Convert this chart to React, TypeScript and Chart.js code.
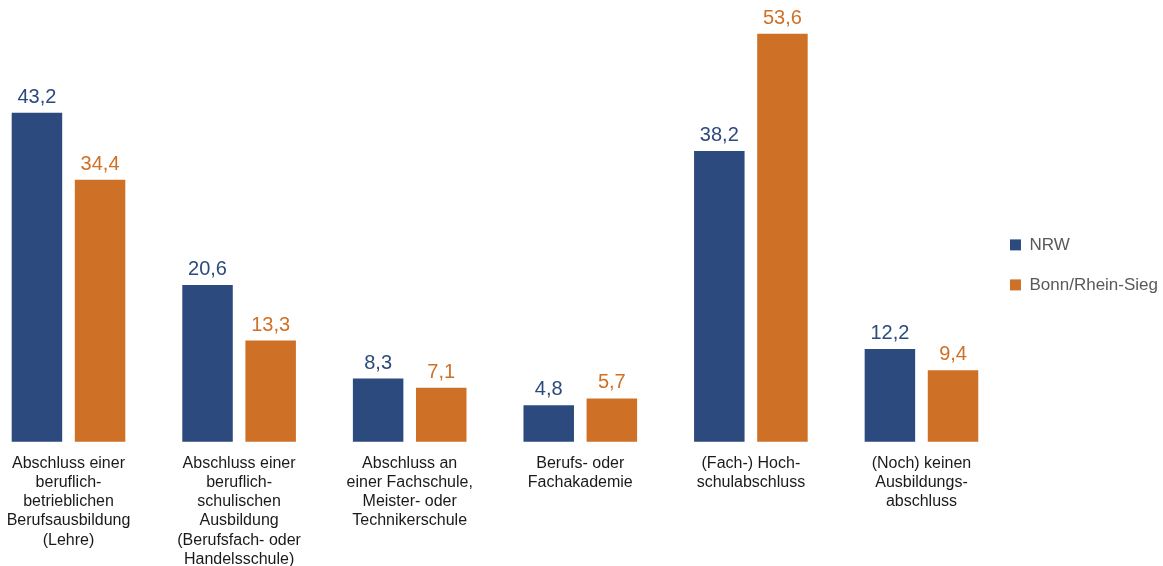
import React, { useEffect, useRef } from "react";
import { Chart, registerables } from "chart.js";

Chart.register(...registerables);

const categories: string[][] = [
  ["Abschluss einer", "beruflich-", "betrieblichen", "Berufsausbildung", "(Lehre)"],
  ["Abschluss einer", "beruflich-", "schulischen", "Ausbildung", "(Berufsfach- oder", "Handelsschule)"],
  ["Abschluss an", "einer Fachschule,", "Meister- oder", "Technikerschule"],
  ["Berufs- oder", "Fachakademie"],
  ["(Fach-) Hoch-", "schulabschluss"],
  ["(Noch) keinen", "Ausbildungs-", "abschluss"],
];
const seriesNames = ["NRW", "Bonn/Rhein-Sieg"];
const nrwValues = [43.2, 20.6, 8.3, 4.8, 38.2, 12.2];
const bonnValues = [34.4, 13.3, 7.1, 5.7, 53.6, 9.4];

const BLUE = "#2C4A7E";
const ORANGE = "#CF7027";
const FONT = "'Liberation Sans', Arial, Helvetica, sans-serif";

const valueLabels = {
  id: "valueLabels",
  afterDatasetsDraw(chart: any) {
    const ctx = chart.ctx;
    ctx.save();
    ctx.font = `20px ${FONT}`;
    ctx.textAlign = "center";
    ctx.textBaseline = "alphabetic";
    chart.data.datasets.forEach((ds: any, di: number) => {
      const meta = chart.getDatasetMeta(di);
      ctx.fillStyle = ds.backgroundColor;
      meta.data.forEach((el: any, i: number) => {
        const v = ds.data[i] as number;
        ctx.fillText(v.toFixed(1).replace(".", ","), el.x, el.y - 10);
      });
    });
    ctx.restore();
  },
};

export default function App() {
  const ref = useRef<HTMLCanvasElement | null>(null);
  useEffect(() => {
    if (!ref.current) return;
    const chart = new Chart(ref.current, {
      type: "bar",
      data: {
        labels: categories,
        datasets: [
          {
            label: seriesNames[0],
            data: nrwValues,
            backgroundColor: BLUE,
            categoryPercentage: 0.74,
            barPercentage: 0.8,
            clip: false as any,
          },
          {
            label: seriesNames[1],
            data: bonnValues,
            backgroundColor: ORANGE,
            categoryPercentage: 0.74,
            barPercentage: 0.8,
            clip: false as any,
          },
        ],
      },
      options: {
        animation: false,
        responsive: true,
        maintainAspectRatio: false,
        layout: { padding: { left: 68.5, right: -5, top: 23, bottom: -5 } },
        plugins: {
          tooltip: { enabled: false },
          legend: {
            position: "right",
            align: "start",
            title: {
              display: true,
              text: "",
              padding: { top: 176, bottom: 0 },
              font: { size: 12, lineHeight: 1.2 },
            },
            labels: {
              boxWidth: 11,
              boxHeight: 11,
              padding: 23,
              color: "#595959",
              font: { family: FONT, size: 17 },
            },
          },
        },
        scales: {
          x: {
            offset: false,
            grid: { display: false, drawTicks: true, tickLength: 10 },
            border: { display: false },
            ticks: {
              color: "#1a1a1a",
              padding: 2,
              maxRotation: 0,
              autoSkip: false,
              font: { family: FONT, size: 16, lineHeight: 1.2 },
            },
          },
          y: {
            position: "right",
            min: 0,
            max: 55,
            grid: { display: false, drawTicks: false },
            border: { display: false },
            ticks: { display: false },
            afterFit(scale: any) {
              scale.width = 65.5;
            },
          },
        },
      },
      plugins: [valueLabels],
    });
    return () => chart.destroy();
  }, []);
  return (
    <div style={{ position: "fixed", left: 0, top: 0, width: 1163, height: 566, background: "#fff" }}>
      <canvas ref={ref} />
    </div>
  );
}
